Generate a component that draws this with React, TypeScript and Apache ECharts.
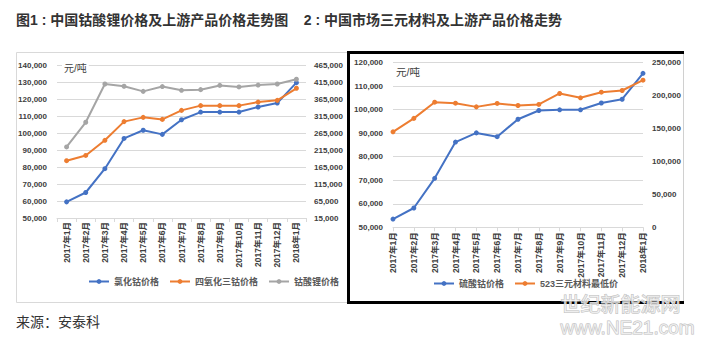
import React, { useEffect, useRef } from 'react';
import * as echarts from 'echarts';

const months = ['2017年1月', '2017年2月', '2017年3月', '2017年4月', '2017年5月', '2017年6月', '2017年7月', '2017年8月', '2017年9月', '2017年10月', '2017年11月', '2017年12月', '2018年1月'];

// Chart 1
const cobaltChloride = [59500, 65000, 79000, 96800, 101600, 99200, 107800, 112300, 112300, 112300, 115300, 117600, 129600];
const cobaltOxide = [183500, 199000, 243500, 298500, 311000, 305000, 331500, 345500, 345500, 345500, 356000, 361000, 396500];
const lcoPrice = [224000, 296500, 409000, 402500, 387500, 401500, 390500, 392500, 405000, 400500, 406000, 409000, 423000];
const chart1RightTicks = [15000, 65000, 115000, 165000, 215000, 265000, 315000, 365000, 415000, 465000];

// Chart 2
const cobaltSulfate = [53500, 58200, 70800, 86200, 90100, 88500, 95900, 99600, 99900, 99900, 102800, 104400, 115400];
const ncm523 = [144800, 165200, 189800, 188300, 182700, 187900, 184800, 186400, 203000, 196400, 205000, 207500, 223200];

const BLUE = '#4472C4';
const ORANGE = '#ED7D31';
const GRAY = '#A5A5A5';
const FONT = '"Liberation Sans", "Noto Sans CJK SC", sans-serif';
const LABEL_COLOR = '#404040';
const GRID_COLOR = '#d9d9d9';

const fmt = (v: number) => Number(v).toLocaleString('en-US');

export default function App() {
  const ref = useRef<HTMLDivElement>(null);
  useEffect(() => {
    if (!ref.current) return;
    const chart = echarts.init(ref.current, undefined, { renderer: 'svg' });
    const xAxisBase = (gridIndex: number, boundaryGap: boolean, margin: number) => ({
      type: 'category',
      gridIndex,
      data: months,
      boundaryGap,
      axisLine: { show: true, lineStyle: { color: GRID_COLOR, width: 1 } },
      axisTick: { show: true, alignWithLabel: !boundaryGap, length: 4, lineStyle: { color: GRID_COLOR } },
      axisLabel: {
        rotate: 90,
        interval: 0,
        margin,
        fontSize: 8.5,
        fontWeight: 'bold',
        color: LABEL_COLOR,
        fontFamily: FONT,
      },
    });
    const yLabel = (margin: number) => ({
      fontSize: 8,
      fontWeight: 'bold',
      color: LABEL_COLOR,
      fontFamily: FONT,
      margin,
      formatter: (v: number) => fmt(v),
    });
    const lineSeries = (name: string, data: number[], color: string, xi: number, yi: number) => ({
      type: 'line',
      name,
      data,
      xAxisIndex: xi,
      yAxisIndex: yi,
      symbol: 'circle',
      symbolSize: 5,
      lineStyle: { width: 2, color },
      itemStyle: { color },
      z: 5,
    });
    const legendText = { fontSize: 9, fontWeight: 'bold', color: '#595959', fontFamily: FONT };

    chart.setOption({
      animation: false,
      backgroundColor: '#fff',
      grid: [
        { left: 57, right: 405, top: 65, bottom: 119 },
        { left: 393, right: 68, top: 62.5, bottom: 109.7 },
      ],
      xAxis: [xAxisBase(0, true, 4), xAxisBase(1, false, 5)],
      yAxis: [
        {
          type: 'value', gridIndex: 0, min: 50000, max: 140000, interval: 10000,
          axisLine: { show: false }, axisTick: { show: false },
          splitLine: { show: true, lineStyle: { color: GRID_COLOR } },
          axisLabel: yLabel(10),
        },
        {
          type: 'value', gridIndex: 0, position: 'right', min: 15000, max: 465000,
          axisLine: { show: false }, axisTick: { show: false },
          splitLine: { show: false },
          axisLabel: { ...yLabel(8), customValues: chart1RightTicks },
        },
        {
          type: 'value', gridIndex: 1, min: 50000, max: 120000, interval: 10000,
          axisLine: { show: false }, axisTick: { show: false },
          splitLine: { show: true, lineStyle: { color: GRID_COLOR } },
          axisLabel: yLabel(10),
        },
        {
          type: 'value', gridIndex: 1, position: 'right', min: 0, max: 250000, interval: 50000,
          axisLine: { show: false }, axisTick: { show: false },
          splitLine: { show: false },
          axisLabel: yLabel(9),
        },
      ],
      legend: [
        {
          data: ['氯化钴价格', '四氧化三钴价格', '钴酸锂价格'],
          left: 88, top: 277, padding: 0, itemWidth: 20, itemHeight: 6, itemGap: 10,
          textStyle: legendText,
        },
        {
          data: ['硫酸钴价格', '523三元材料最低价'],
          left: 433, top: 279, padding: 0, itemWidth: 20, itemHeight: 6, itemGap: 10,
          textStyle: legendText,
        },
      ],
      series: [
        lineSeries('氯化钴价格', cobaltChloride, BLUE, 0, 0),
        lineSeries('四氧化三钴价格', cobaltOxide, ORANGE, 0, 1),
        lineSeries('钴酸锂价格', lcoPrice, GRAY, 0, 1),
        lineSeries('硫酸钴价格', cobaltSulfate, BLUE, 1, 2),
        lineSeries('523三元材料最低价', ncm523, ORANGE, 1, 3),
      ],
      graphic: [
        {
          type: 'rect', z: 50, silent: true,
          shape: { x: 16.5, y: 52.5, width: 331, height: 250 },
          style: { fill: 'none', stroke: '#d9d9d9', lineWidth: 1 },
        },
        {
          type: 'line', z: 51, silent: true,
          shape: { x1: 683.5, y1: 52, x2: 683.5, y2: 303 },
          style: { stroke: '#d0d0d0', lineWidth: 1 },
        },
        {
          type: 'polyline', z: 52, silent: true,
          shape: { points: [[684, 52.5], [348.5, 52.5], [348.5, 302.5], [684, 302.5]] },
          style: { fill: 'none', stroke: '#000', lineWidth: 3 },
        },
        {
          type: 'text', z: 60, left: 16, top: 13,
          style: {
            text: '图1 : 中国钴酸锂价格及上游产品价格走势图    2 : 中国市场三元材料及上游产品价格走势',
            fontSize: 14, fontWeight: 'bold', fill: '#333', fontFamily: FONT,
          },
        },
        {
          type: 'text', z: 60, left: 62, top: 63,
          style: { text: '元/吨', fontSize: 10, fill: LABEL_COLOR, fontFamily: FONT, backgroundColor: '#fff', padding: [1, 2] },
        },
        {
          type: 'text', z: 60, left: 394, top: 66,
          style: { text: '元/吨', fontSize: 10.5, fill: LABEL_COLOR, fontFamily: FONT, backgroundColor: '#fff', padding: [1, 2] },
        },
        {
          type: 'text', z: 60, left: 16, top: 315,
          style: { text: '来源：安泰科', fontSize: 14, fill: '#333', fontFamily: FONT },
        },
        {
          type: 'text', z: 70, left: 560, top: 294,
          style: { text: '世纪新能源网', fontSize: 20, fill: 'rgba(255,255,255,0.6)', stroke: '#bdbdbd', lineWidth: 1, fontFamily: FONT },
        },
        {
          type: 'text', z: 70, left: 560, top: 317,
          style: { text: 'www.NE21.com', fontSize: 19, fill: 'rgba(255,255,255,0.6)', stroke: '#bdbdbd', lineWidth: 1, fontFamily: FONT },
        },
      ],
    });
    return () => chart.dispose();
  }, []);
  return <div ref={ref} style={{ position: 'fixed', left: 0, top: 0, width: 711, height: 337, background: '#fff' }} />;
}
